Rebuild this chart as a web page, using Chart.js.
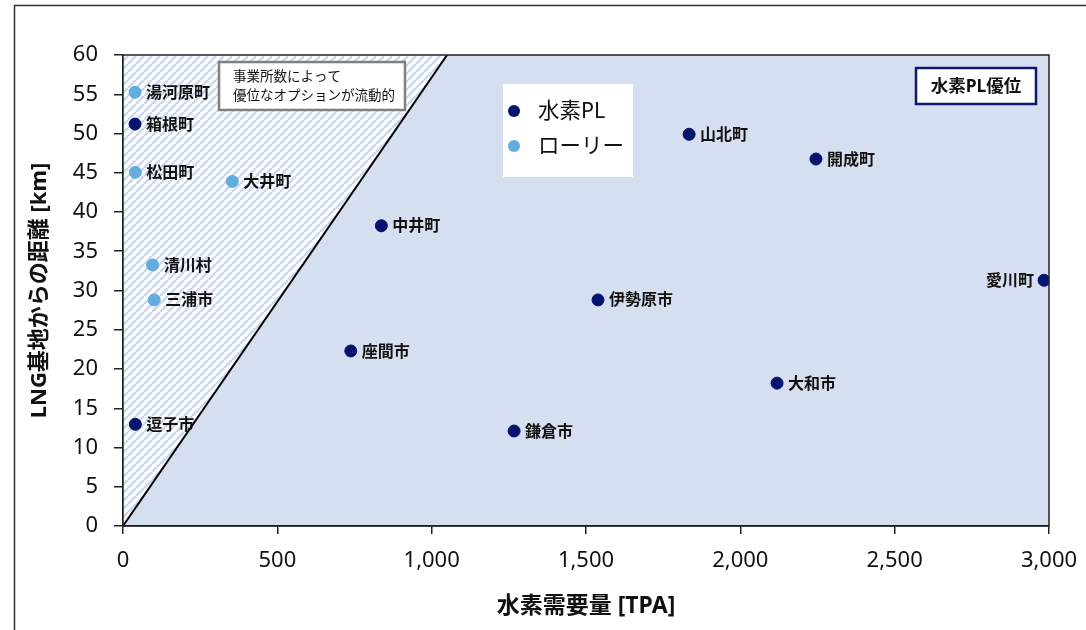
<!DOCTYPE html>
<html lang="ja">
<head>
    <meta charset="UTF-8">
    <title>水素需要量とLNG基地からの距離</title>
    <style>
        body { margin: 0; background: #fff; }
        #wrap { width: 1086px; height: 630px; }
    </style>
</head>
<body>
    <div id="wrap">
        <canvas id="scatterChart" width="1086" height="630"></canvas>
    </div>
    <script src="https://cdn.jsdelivr.net/npm/chart.js"></script>
    <script>
// 水素PL (pipeline) towns
const plNames = ['箱根町', '逗子市', '中井町', '座間市', '鎌倉市', '伊勢原市', '山北町', '開成町', '大和市', '愛川町'];
const plDemand = [39, 40, 837, 738, 1267, 1539, 1834, 2245, 2119, 2984];
const plDistance = [51.2, 12.95, 38.25, 22.3, 12.1, 28.8, 49.9, 46.75, 18.2, 31.3];

// ローリー (truck) towns
const lorryNames = ['湯河原町', '松田町', '大井町', '清川村', '三浦市'];
const lorryDemand = [39, 40, 354, 96, 101];
const lorryDistance = [55.25, 45.05, 43.9, 33.25, 28.8];

// boundary line between the two regions
const boundaryDemand = [0, 1050];
const boundaryDistance = [0, 60];

const xTicks = [0, 500, 1000, 1500, 2000, 2500, 3000];
const yTicks = [0, 5, 10, 15, 20, 25, 30, 35, 40, 45, 50, 55, 60];

const NAVY = '#03136e';
const LIGHT = '#62acdf';
const PLOT_BG = '#d6dfef';
const JP = '"Noto Sans", "Noto Sans CJK JP", sans-serif';

function toPoints(xs, ys) {
    return xs.map((x, i) => ({ x: x, y: ys[i] }));
}

// diagonal hatch for the "either option" area
function makeHatch() {
    const s = 8;
    const c = document.createElement('canvas');
    c.width = s; c.height = s;
    const g = c.getContext('2d');
    g.fillStyle = '#ffffff';
    g.fillRect(0, 0, s, s);
    g.strokeStyle = '#ccd8ee';
    g.lineWidth = 2.6;
    for (let k = -1; k <= 1; k++) {
        g.beginPath();
        g.moveTo(k * s, s);
        g.lineTo(k * s + s, 0);
        g.stroke();
    }
    return g.createPattern(c, 'repeat');
}

const decorations = {
    id: 'decorations',
    beforeDraw(chart) {
        const { ctx, chartArea: a } = chart;
        ctx.save();
        ctx.fillStyle = PLOT_BG;
        ctx.fillRect(a.left, a.top, a.right - a.left, a.bottom - a.top);
        // outer frame
        ctx.strokeStyle = '#333';
        ctx.lineWidth = 1.5;
        ctx.beginPath();
        ctx.moveTo(14.5, 630);
        ctx.lineTo(14.5, 5.5);
        ctx.lineTo(1086, 5.5);
        ctx.stroke();
        ctx.restore();
    },
    afterDatasetsDraw(chart) {
        const { ctx } = chart;
        ctx.save();
        ctx.font = 'bold 16px ' + JP;
        ctx.fillStyle = '#111';
        ctx.textBaseline = 'middle';
        const label = (dsIndex, names) => {
            chart.getDatasetMeta(dsIndex).data.forEach((pt, i) => {
                if (names[i] === '愛川町') {
                    ctx.textAlign = 'right';
                    ctx.fillText(names[i], pt.x - 10, pt.y + 1);
                } else {
                    ctx.textAlign = 'left';
                    ctx.fillText(names[i], pt.x + 11, pt.y + 1);
                }
            });
        };
        label(1, plNames);
        label(2, lorryNames);
        ctx.restore();
    },
    afterDraw(chart) {
        const { ctx, chartArea: a } = chart;
        ctx.save();
        // plot frame
        ctx.strokeStyle = '#222';
        ctx.lineWidth = 1.5;
        ctx.strokeRect(a.left, a.top, a.right - a.left, a.bottom - a.top);

        // note box
        ctx.fillStyle = '#fff';
        ctx.fillRect(219, 62, 186, 48);
        ctx.strokeStyle = '#7f7f7f';
        ctx.lineWidth = 2.5;
        ctx.strokeRect(219, 62, 186, 48);
        ctx.fillStyle = '#111';
        ctx.font = '13.5px ' + JP;
        ctx.textAlign = 'left';
        ctx.textBaseline = 'middle';
        ctx.fillText('事業所数によって', 233, 77);
        ctx.fillText('優位なオプションが流動的', 233, 96);

        // 水素PL優位 box
        ctx.fillStyle = '#fff';
        ctx.fillRect(916, 68, 120, 36);
        ctx.strokeStyle = '#0b1a70';
        ctx.lineWidth = 2.5;
        ctx.strokeRect(916, 68, 120, 36);
        ctx.fillStyle = '#111';
        ctx.font = 'bold 17.5px ' + JP;
        ctx.textAlign = 'center';
        ctx.fillText('水素PL優位', 976, 87);

        // legend
        ctx.fillStyle = '#fff';
        ctx.fillRect(503, 84, 130, 93);
        const items = [[NAVY, '水素PL', 111], [LIGHT, 'ローリー', 146]];
        ctx.font = '21.5px ' + JP;
        ctx.textAlign = 'left';
        items.forEach(([col, txt, y]) => {
            ctx.fillStyle = col;
            ctx.beginPath();
            ctx.arc(514, y, 6, 0, Math.PI * 2);
            ctx.fill();
            ctx.fillStyle = '#111';
            ctx.fillText(txt, 538, y + 1);
        });
        ctx.restore();
    }
};

new Chart(document.getElementById('scatterChart'), {
    type: 'scatter',
    data: {
        datasets: [
            {
                type: 'line',
                label: 'boundary',
                data: toPoints(boundaryDemand, boundaryDistance),
                borderColor: '#000',
                borderWidth: 2,
                pointRadius: 0,
                fill: 'end',
                backgroundColor: makeHatch(),
                order: 3
            },
            {
                label: '水素PL',
                data: toPoints(plDemand, plDistance),
                backgroundColor: NAVY,
                borderColor: NAVY,
                pointRadius: 6,
                order: 1
            },
            {
                label: 'ローリー',
                data: toPoints(lorryDemand, lorryDistance),
                backgroundColor: LIGHT,
                borderColor: LIGHT,
                pointRadius: 6,
                order: 2
            }
        ]
    },
    options: {
        responsive: false,
        animation: false,
        layout: {
            autoPadding: false,
            padding: { left: 0, top: 55, right: 37, bottom: 0 }
        },
        plugins: {
            legend: { display: false },
            tooltip: { enabled: false }
        },
        scales: {
            x: {
                type: 'linear',
                min: 0,
                max: 3000,
                afterBuildTicks: s => { s.ticks = xTicks.map(v => ({ value: v })); },
                afterFit: s => { s.height = 104; s.paddingLeft = 0; s.paddingRight = 0; },
                grid: { drawOnChartArea: false, color: '#222', tickLength: 8, lineWidth: 1.5 },
                border: { color: '#222', width: 1.5 },
                ticks: {
                    padding: 14,
                    color: '#111',
                    font: { family: JP, size: 22 },
                    callback: v => v.toLocaleString('en-US')
                },
                title: {
                    display: true,
                    text: '水素需要量 [TPA]',
                    color: '#111',
                    font: { family: JP, size: 23, weight: 'bold' },
                    padding: { top: 0, bottom: 10 }
                }
            },
            y: {
                type: 'linear',
                min: 0,
                max: 60,
                afterBuildTicks: s => { s.ticks = yTicks.map(v => ({ value: v })); },
                afterFit: s => { s.width = 123; s.paddingTop = 0; s.paddingBottom = 0; },
                grid: { drawOnChartArea: false, color: '#222', tickLength: 9, lineWidth: 1.5 },
                border: { color: '#222', width: 1.5 },
                ticks: {
                    padding: 16,
                    color: '#111',
                    font: { family: JP, size: 22 }
                },
                title: {
                    display: true,
                    text: 'LNG基地からの距離 [km]',
                    color: '#111',
                    font: { family: JP, size: 22, weight: 'bold' },
                    padding: { top: 27, bottom: 0 }
                }
            }
        }
    },
    plugins: [decorations]
});
    </script>
</body>
</html>
